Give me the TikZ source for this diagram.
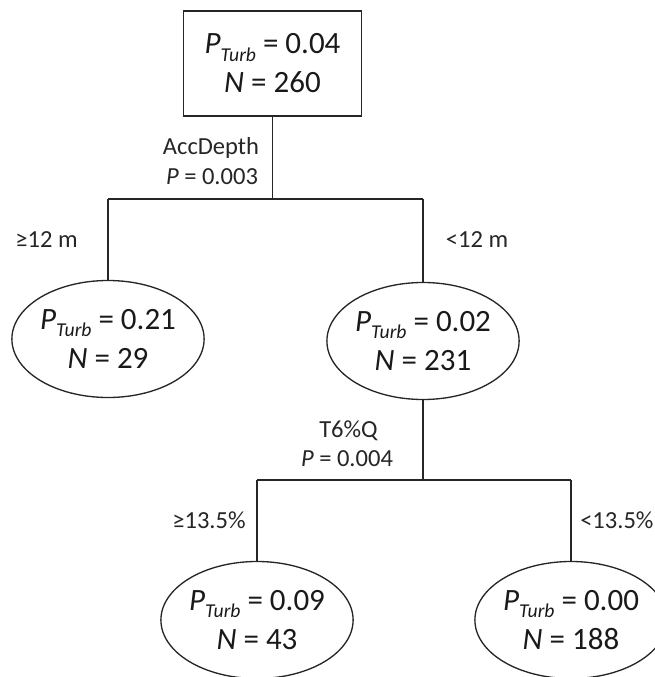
\documentclass[tikz,border=0pt]{standalone}
\usepackage{fontspec}
\setmainfont{Carlito}
\usetikzlibrary{shapes.geometric}
\newcommand{\bigfnt}{\fontsize{23.25pt}{29.25pt}\selectfont}
\newcommand{\smallfnt}{\fontsize{18.4pt}{22.5pt}\selectfont}
\newcommand{\PTurb}[1]{\textit{P}\raisebox{-5.5pt}{\fontsize{14.7pt}{16pt}\selectfont\textit{Turb}} = #1}
\tikzset{
  rootbox/.style={draw=black!85, line width=1pt, minimum width=133.5pt, minimum height=78.75pt,
    align=center, inner sep=0pt, font=\bigfnt, text=black!90},
  ell/.style={draw=black!85, ellipse, line width=1pt, minimum width=131pt, minimum height=87.75pt,
    inner sep=0pt, align=center, font=\bigfnt, text=black!90},
  lab/.style={font=\smallfnt, inner sep=0pt, anchor=base, text=black!85},
  conn/.style={line width=1pt, draw=black!85}
}
\begin{document}
\begin{tikzpicture}[x=0.75pt, y=-0.75pt]
  \useasboundingbox (0,0) rectangle (654,677);
  % nodes
  \node[rootbox] (root) at (272.5,63.5) {\PTurb{0.04}\\\textit{N} = 260};
  \node[ell] (left) at (108,339) {\PTurb{0.21}\\\textit{N} = 29};
  \node[ell] (mid) at (423,341) {\PTurb{0.02}\\\textit{N} = 231};
  \node[ell] (bl) at (257,620) {\PTurb{0.09}\\\textit{N} = 43};
  \node[ell] (br) at (571,620) {\PTurb{0.00}\\\textit{N} = 188};
  % junctions
  \coordinate (j1) at (272.5,199);
  \coordinate (j1l) at (108,199);
  \coordinate (j1r) at (423,199);
  \coordinate (j2) at (423,480);
  \coordinate (j2l) at (257,480);
  \coordinate (j2r) at (571,480);
  % connectors
  \draw[conn] (root.south) -- (j1);
  \draw[conn] (j1l) -- (j1r);
  \draw[conn] (j1l) -- (left.north);
  \draw[conn] (j1r) -- (mid.north);
  \draw[conn] (mid.south) -- (j2);
  \draw[conn] (j2l) -- (j2r);
  \draw[conn] (j2l) -- (bl.north);
  \draw[conn] (j2r) -- (br.north);
  % labels
  \node[lab] (l1a) at (211,155) {AccDepth};
  \node[lab] (l1b) at (212,185) {\textit{P} = 0.003};
  \node[lab] (l1c) at (46.5,247) {≥12 m};
  \node[lab] (l1d) at (477,247) {<12 m};
  \node[lab] (l2a) at (348.5,437) {T6\%Q};
  \node[lab] (l2b) at (347,466) {\textit{P} = 0.004};
  \node[lab] (l2c) at (209,528) {≥13.5\%};
  \node[lab, anchor=base west] (l2d) at (580,528) {<13.5\%};
\end{tikzpicture}
\end{document}
